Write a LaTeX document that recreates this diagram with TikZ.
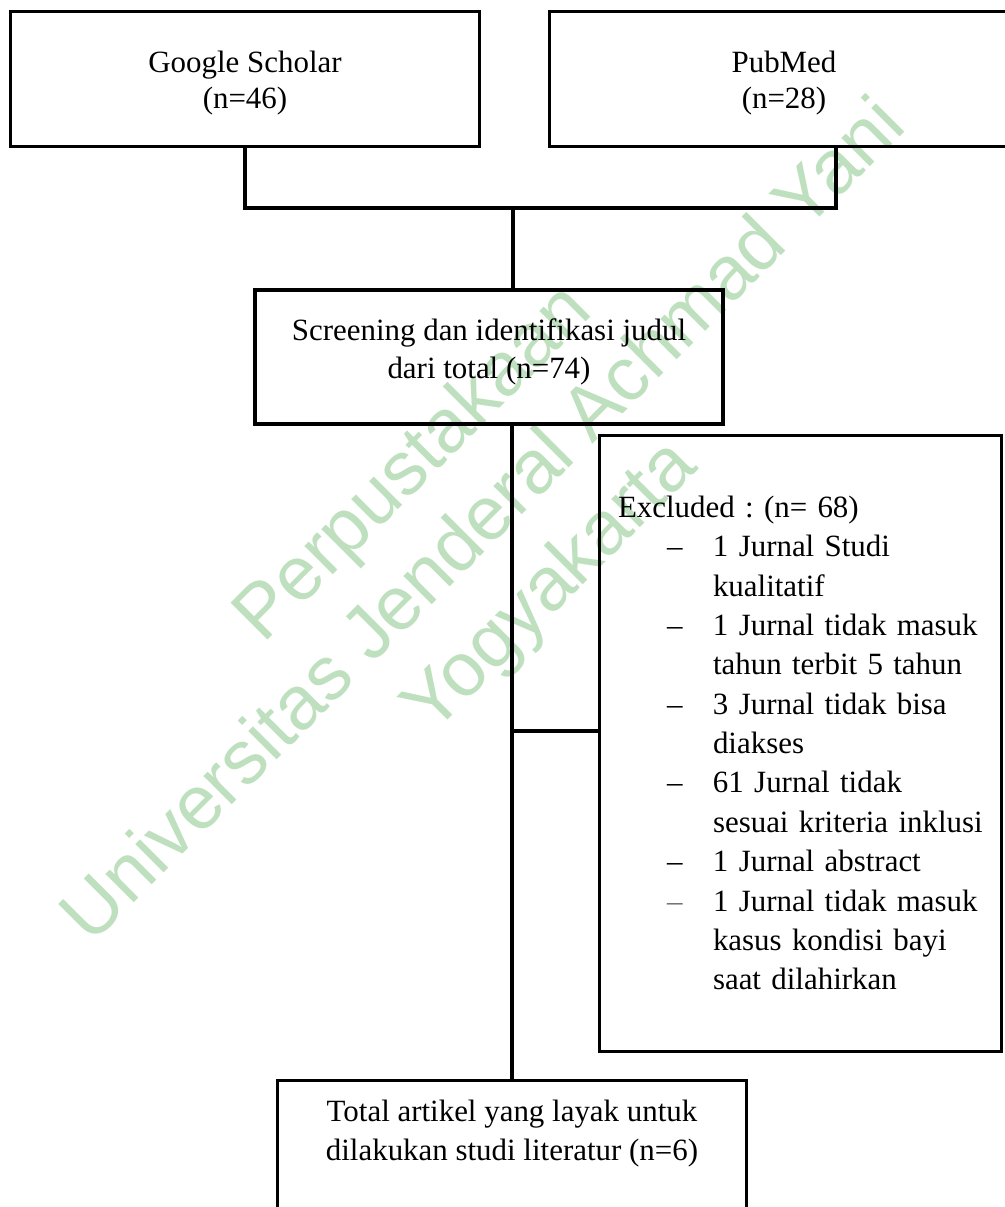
\documentclass[tikz,border=0pt]{standalone}
\usepackage{fontspec}
\setmainfont{Liberation Serif}
\newfontfamily\wmfont{Liberation Sans}
\usepackage{tikz}
\usetikzlibrary{positioning, calc}
\definecolor{wmgreen}{RGB}{190,224,190}
\newcommand{\exitem}{\hspace*{12.25mm}\makebox[11.5mm][l]{--}}
\newcommand{\exwrap}{\hspace*{23.75mm}}

\begin{document}
\begin{tikzpicture}[
    x=0.25mm, y=-0.25mm,
    box/.style={draw, line width=0.75mm, minimum width=117mm, minimum height=33.6mm, align=center, font=\fontsize{22}{25}\selectfont},
    link/.style={line width=0.8mm},
    wmtext/.style={text=wmgreen, rotate=45, anchor=base, inner sep=0pt, font=\wmfont\fontsize{54}{54}\selectfont}
]
    \useasboundingbox (0,0) rectangle (1005,1207);
    \clip (0,0) rectangle (1005,1207);

    % Watermark
    \node[wmtext] (wmtop) at (429,479) {Perpustakaan};
    \node[wmtext] (wmmid) at (500,537) {Universitas Jenderal Achmad Yani};
    \node[wmtext] (wmbot) at (566,602) {Yogyakarta};

    % Sources
    \node[box] (gs) at (245,79) {\rule{0pt}{21pt}Google Scholar\\(n=46)};
    \node[box] (pm) at (784,79) {\rule{0pt}{21pt}PubMed\\(n=28)};

    % Screening
    \node[box, line width=1.1mm, font=\fontsize{22}{27}\selectfont] (scr) at (489,357) {Screening dan identifikasi judul\\dari total (n=74)\rule[-12pt]{0pt}{12pt}};

    % Excluded
    \node[box, minimum width=100.5mm, minimum height=154mm, text width=91mm, inner xsep=0pt, align=left, font=\fontsize{22}{28}\selectfont\frenchspacing] (exc) at (800,743) {%
        \mbox{Excluded : (n= 68)}\\
        \mbox{\exitem 1 Jurnal Studi}\\
        \mbox{\exwrap kualitatif}\\
        \mbox{\exitem 1 Jurnal tidak masuk}\\
        \mbox{\exwrap tahun terbit 5 tahun}\\
        \mbox{\exitem 3 Jurnal tidak bisa}\\
        \mbox{\exwrap diakses}\\
        \mbox{\exitem 61 Jurnal tidak}\\
        \mbox{\exwrap sesuai kriteria inklusi}\\
        \mbox{\exitem 1 Jurnal abstract}\\
        \mbox{\hspace*{12.25mm}\makebox[11.5mm][l]{\textcolor{black!55}{--}}1 Jurnal tidak masuk}\\
        \mbox{\exwrap kasus kondisi bayi}\\
        \mbox{\exwrap saat dilahirkan}};

    % Included
    \node[box, anchor=north, minimum height=34.5mm, font=\fontsize{22}{27.5}\selectfont] (fin) at (512,1079) {Total artikel yang layak untuk\\dilakukan studi literatur (n=6)\\ \mbox{}};

    % Connectors
    \coordinate (merge) at (513,208);
    \coordinate (brk) at ([yshift=3mm]exc.west);
    \draw[link] (gs.south) |- (merge) -| ([xshift=13mm]pm.south);
    \draw[link] (merge) -- (merge |- scr.north);
    \draw[link] (scr.south -| fin.north) -- (fin.north);
    \draw[link] (brk -| fin.north) -- (brk);
\end{tikzpicture}
\end{document}
